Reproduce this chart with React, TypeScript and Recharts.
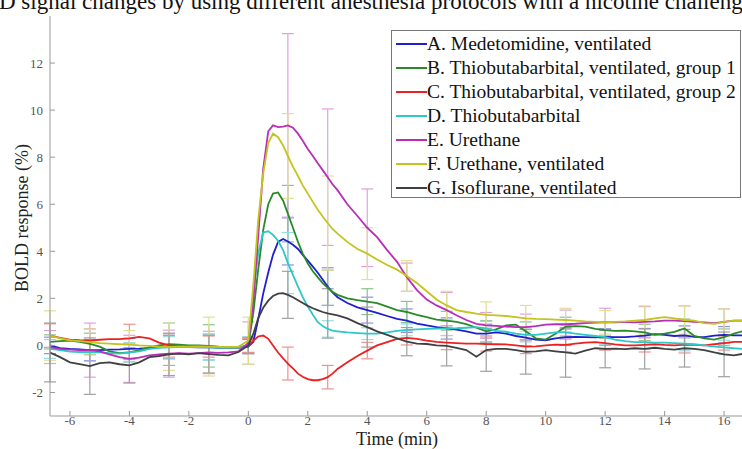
import React from 'react';
import { LineChart, Line, XAxis, YAxis, ErrorBar, Legend } from 'recharts';

const FONT = '"Liberation Serif", "Times New Roman", serif';
const CAPTION = 'BOLD signal changes by using different anesthesia protocols with a nicotine challenge';

const TIMES = [
  -6.67, -6.33, -6, -5.67, -5.33, -5, -4.67, -4.33, -4, -3.67, -3.33, -3, -2.67, -2.33, -2, -1.67, -1.33, -1, -0.67, -0.33,
  0, 0.17, 0.33, 0.5, 0.67, 0.83, 1, 1.17, 1.33, 1.5, 1.67, 1.83, 2, 2.17, 2.33, 2.5, 2.67, 2.83, 3,
  3.33, 3.67, 4, 4.33, 4.67, 5, 5.33, 5.67, 6, 6.33, 6.67, 7, 7.33, 7.67, 8,
  8.33, 8.67, 9, 9.33, 9.67, 10, 10.33, 10.67, 11, 11.33, 11.67, 12, 12.33, 12.67, 13, 13.33, 13.67, 14, 14.33, 14.67, 15, 15.33, 15.67, 16, 16.33, 16.67,
];

const BAR_TIMES = [-6.67, -5.33, -4, -2.67, -1.33, 0, 1.33, 2.67, 4, 5.33, 6.67, 8, 9.33, 10.67, 12, 13.33, 14.67, 16];

const A_MEDETOMIDINE = [
  0.0, -0.12, -0.15, -0.17, -0.2, -0.2, -0.18, -0.17, -0.15, -0.14, -0.12, -0.07, -0.07, -0.05, -0.07, -0.08, -0.07, -0.1, -0.1, -0.1,
  -0.05, 0.15, 1.1, 2.2, 3.1, 3.85, 4.4, 4.52, 4.42, 4.28, 4.1, 3.85, 3.6, 3.35, 3.1, 2.8, 2.5, 2.25, 2.05,
  1.8, 1.62, 1.5, 1.38, 1.25, 1.13, 1.05, 0.93, 0.85, 0.78, 0.72, 0.67, 0.6, 0.5, 0.5,
  0.55, 0.5, 0.4, 0.33, 0.25, 0.22, 0.3, 0.35, 0.36, 0.35, 0.34, 0.36, 0.35, 0.35, 0.38, 0.42, 0.48, 0.45, 0.4, 0.43, 0.36, 0.35, 0.42, 0.45, 0.43, 0.43,
];
const B_THIO_VENT_1 = [
  0.15, 0.18, 0.2, 0.15, 0.07, -0.05, -0.25, -0.33, -0.3, -0.2, -0.08, 0.0, 0.05, 0.03, 0.0, 0.0, -0.02, -0.05, -0.07, -0.08,
  0.0, 1.4, 3.2, 4.9, 6.0, 6.45, 6.5, 6.15, 5.6, 5.0, 4.4, 3.9, 3.48, 3.15, 2.9, 2.65, 2.45, 2.28, 2.15,
  2.0, 1.92, 1.86, 1.8, 1.65, 1.5, 1.42, 1.3, 1.2, 1.1, 1.05, 1.0, 0.9, 0.75, 0.6,
  0.68, 0.85, 0.88, 0.6, 0.3, 0.25, 0.5, 0.8, 0.82, 0.8, 0.7, 0.65, 0.62, 0.63, 0.6, 0.55, 0.45, 0.5, 0.58, 0.72, 0.4, 0.3, 0.25, 0.35, 0.5, 0.62,
];
const C_THIO_VENT_2 = [
  0.42, 0.32, 0.25, 0.22, 0.2, 0.24, 0.27, 0.27, 0.3, 0.36, 0.3, 0.12, 0.0, -0.03, -0.05, -0.06, -0.05, -0.08, -0.1, -0.1,
  0.0, 0.2, 0.38, 0.42, 0.28, 0.0, -0.3, -0.55, -0.77, -0.98, -1.2, -1.33, -1.43, -1.48, -1.48, -1.43, -1.35, -1.2, -1.0,
  -0.72, -0.45, -0.22, 0.0, 0.14, 0.28, 0.32, 0.28, 0.2, 0.15, 0.12, 0.1, 0.08, 0.08, 0.06,
  0.05, 0.04, 0.0, -0.05, -0.04, 0.0, 0.03, 0.02, 0.08, 0.12, 0.14, 0.1, 0.04, 0.0, 0.0, 0.02, 0.05, 0.02, 0.0, 0.03, 0.02, 0.0, 0.05, 0.1, 0.15, 0.15,
];
const D_THIO = [
  -0.15, -0.2, -0.26, -0.28, -0.28, -0.3, -0.33, -0.35, -0.3, -0.25, -0.15, -0.1, -0.08, -0.07, -0.06, -0.07, -0.08, -0.1, -0.1, -0.1,
  0.0, 2.2, 3.9, 4.8, 4.85, 4.7, 4.45, 4.05, 3.5, 3.0, 2.5, 2.05, 1.65, 1.3, 1.0, 0.82, 0.7, 0.63, 0.6,
  0.55, 0.52, 0.5, 0.5, 0.55, 0.62, 0.66, 0.68, 0.7, 0.71, 0.72, 0.73, 0.75, 0.78, 0.72,
  0.62, 0.58, 0.5, 0.45, 0.45, 0.5, 0.55, 0.55, 0.5, 0.45, 0.4, 0.35, 0.25, 0.18, 0.14, 0.14, 0.12, 0.12, 0.1, 0.07, 0.05, 0.0, -0.05, -0.08, -0.12, -0.15,
];
const E_URETHANE = [
  -0.07, -0.15, -0.18, -0.2, -0.2, -0.25, -0.38, -0.5, -0.57, -0.52, -0.42, -0.38, -0.35, -0.33, -0.35, -0.33, -0.3, -0.32, -0.3, -0.25,
  0.1, 1.9, 4.6, 7.5, 9.1, 9.35, 9.28, 9.3, 9.35, 9.25, 9.0, 8.7, 8.35, 8.05, 7.75, 7.45, 7.15, 6.85, 6.6,
  6.0, 5.5, 5.0, 4.6, 4.05, 3.55, 2.9, 2.35, 1.95, 1.7, 1.5, 1.28, 1.08, 0.92, 0.85,
  0.83, 0.8, 0.78, 0.78, 0.82, 0.88, 0.9, 0.9, 0.92, 0.95, 0.97, 0.98, 0.98, 1.0, 0.98, 1.0, 1.02, 1.05, 1.05, 1.03, 1.0, 0.98, 0.95, 1.0, 1.05, 1.05,
];
const F_URETHANE_VENT = [
  0.42, 0.3, 0.22, 0.18, 0.14, 0.1, 0.08, 0.05, 0.03, 0.0, -0.02, -0.05, -0.06, -0.05, -0.05, -0.04, -0.05, -0.06, -0.06, -0.05,
  0.2, 2.6, 5.3, 7.3, 8.6, 9.0, 8.85, 8.5, 8.05, 7.6, 7.2, 6.8, 6.45, 6.1, 5.78, 5.48, 5.2, 4.95, 4.75,
  4.4, 4.1, 3.9, 3.65, 3.42, 3.22, 2.95, 2.65, 2.3, 1.95, 1.7, 1.5, 1.42, 1.35, 1.3,
  1.28, 1.25, 1.2, 1.15, 1.13, 1.12, 1.1, 1.08, 1.05, 1.02, 1.0, 0.98, 1.0, 1.02, 1.05, 1.08, 1.15, 1.2, 1.15, 1.08, 1.05, 0.95, 0.92, 1.0, 1.05, 1.05,
];
const G_ISOFLURANE_VENT = [
  -0.3, -0.5, -0.72, -0.8, -0.88, -0.75, -0.72, -0.8, -0.85, -0.72, -0.5, -0.45, -0.38, -0.35, -0.38, -0.33, -0.37, -0.4, -0.42, -0.28,
  0.0, 0.5, 1.15, 1.6, 1.9, 2.1, 2.2, 2.22, 2.15, 2.05, 1.92, 1.8, 1.68, 1.58, 1.5, 1.42, 1.36, 1.32, 1.28,
  1.15, 0.95, 0.78, 0.6, 0.45, 0.3, 0.16, 0.08, 0.06, 0.0, -0.02, -0.1, -0.2, -0.48, -0.2,
  -0.15, -0.15, -0.2, -0.27, -0.25, -0.2, -0.25, -0.3, -0.35, -0.22, -0.12, -0.15, -0.14, -0.16, -0.12, -0.15, -0.1, -0.15, -0.18, -0.12, -0.15, -0.2, -0.3, -0.38, -0.42, -0.35,
];

const ERR_A = [0.35, 0.45, 0.45, 0.5, 0.55, 0.3, 1.0, 0.8, 0.55, 0.5, 0.45, 0.4, 0.35, 0.35, 0.35, 0.3, 0.4, 0.35];
const ERR_B = [0.3, 0.45, 0.4, 0.9, 0.9, 0.3, 1.2, 0.75, 0.55, 0.45, 0.4, 0.45, 0.4, 0.4, 0.35, 0.35, 0.4, 0.35];
const ERR_C = [0.5, 0.5, 0.6, 0.5, 0.45, 0.3, 0.7, 0.5, 0.35, 0.3, 0.3, 0.3, 0.3, 0.3, 0.3, 0.3, 0.35, 0.3];
const ERR_D = [0.4, 0.4, 0.4, 0.45, 0.55, 0.35, 1.3, 0.35, 0.25, 0.25, 0.3, 0.3, 0.3, 0.3, 0.3, 0.3, 0.3, 0.3];
const ERR_E = [0.7, 1.15, 1.0, 1.0, 0.9, 0.9, 3.9, 2.9, 1.65, 0.6, 0.75, 0.55, 0.55, 0.6, 0.6, 0.65, 0.65, 0.55];
const ERR_F = [1.05, 0.55, 0.6, 1.0, 1.25, 1.0, 1.8, 2.0, 1.1, 0.65, 0.6, 0.55, 0.55, 0.5, 0.5, 0.6, 0.6, 0.55];
const ERR_G = [1.25, 1.2, 0.75, 0.9, 0.8, 0.35, 1.0, 1.05, 0.85, 0.6, 0.85, 0.9, 0.95, 1.05, 0.8, 0.85, 0.8, 0.95];

const NAMES = [
  'A. Medetomidine, ventilated',
  'B. Thiobutabarbital, ventilated, group 1',
  'C. Thiobutabarbital, ventilated, group 2',
  'D. Thiobutabarbital',
  'E. Urethane',
  'F. Urethane, ventilated',
  'G. Isoflurane, ventilated',
];
const COLORS = ['#1f1fd0', '#2a8a2a', '#ee2020', '#2ec8c8', '#b92eb9', '#c4c41e', '#404040'];
const BAR_COLORS = ['#9090e2', '#90c290', '#f29090', '#90e0e0', '#e0a0e0', '#e0e090', '#a0a0a0'];

const X_TICKS = [-6, -4, -2, 0, 2, 4, 6, 8, 10, 12, 14, 16];
const Y_TICKS = [-2, 0, 2, 4, 6, 8, 10, 12];

const VALUES = [A_MEDETOMIDINE, B_THIO_VENT_1, C_THIO_VENT_2, D_THIO, E_URETHANE, F_URETHANE_VENT, G_ISOFLURANE_VENT];
const ERRORS = [ERR_A, ERR_B, ERR_C, ERR_D, ERR_E, ERR_F, ERR_G];

type Row = { t: number; v: number; e?: number };

function buildRows(values: number[], errs: number[]): Row[] {
  return TIMES.map((t, i) => {
    const k = BAR_TIMES.indexOf(t);
    return k >= 0 ? { t, v: values[i], e: errs[k] } : { t, v: values[i] };
  });
}

const ROWS = VALUES.map((v, i) => buildRows(v, ERRORS[i]));
const BAR_ROWS = ROWS.map((rows) => rows.filter((r) => r.e !== undefined));

const renderLegend = () => (
  <div
    style={{
      boxSizing: 'border-box',
      width: 350,
      height: 168,
      border: '1px solid #777',
      background: '#fff',
      padding: '1px 0 0 4px',
      fontFamily: FONT,
      fontSize: 19.5,
      color: '#111',
      textAlign: 'left',
    }}
  >
    {NAMES.map((n, i) => (
      <div key={n} style={{ display: 'flex', alignItems: 'center', height: 24, whiteSpace: 'nowrap', lineHeight: '24px' }}>
        <svg width={31} height={6} style={{ display: 'block', flex: 'none' }}>
          <line x1={0} y1={3} x2={31} y2={3} stroke={COLORS[i]} strokeWidth={2} />
        </svg>
        <span style={{ fontFamily: FONT }}>{n}</span>
      </div>
    ))}
  </div>
);

const XTick = (props: any) => (
  <text x={props.x} y={props.y} dy="0.71em" textAnchor="middle" fill="#555" style={{ fontFamily: FONT, fontSize: 13 }}>
    {props.payload.value}
  </text>
);

const YTick = (props: any) => (
  <text x={props.x} y={props.y} dy="0.355em" textAnchor="end" fill="#555" style={{ fontFamily: FONT, fontSize: 13 }}>
    {props.payload.value}
  </text>
);

export default function App() {
  return (
    <div style={{ position: 'absolute', left: 0, top: 0, width: 742, height: 449, overflow: 'hidden', background: '#fff' }}>
      <div
        style={{
          position: 'absolute',
          left: -47,
          top: -10,
          fontFamily: FONT,
          fontSize: 23,
          lineHeight: '23px',
          whiteSpace: 'nowrap',
          color: '#111',
        }}
      >
        {CAPTION}
      </div>
      <LineChart width={760} height={449} margin={{ top: 16, right: 16, bottom: 0, left: 0 }}>
        <XAxis
          type="number"
          dataKey="t"
          domain={[-6.67, 16.67]}
          allowDataOverflow
          ticks={X_TICKS}
          tickSize={-5}
          tickMargin={5}
          height={33}
          stroke="#999"
          tick={<XTick />}
          label={{ value: 'Time (min)', position: 'insideBottom', offset: 4, fill: '#222', fontSize: 18, fontFamily: FONT }}
        />
        <YAxis
          type="number"
          dataKey="v"
          domain={[-3, 14]}
          allowDataOverflow
          ticks={Y_TICKS}
          width={50}
          tickSize={-5}
          tickMargin={12}
          stroke="#999"
          tick={<YTick />}
          label={{
            content: () => (
              <text
                x={22}
                y={218}
                transform="rotate(-90 22 218)"
                textAnchor="middle"
                dominantBaseline="central"
                fontFamily={FONT}
                fontSize={18}
                fill="#222"
              >
                BOLD response (%)
              </text>
            ),
          }}
        />
        {BAR_ROWS.map((rows, i) => (
          <Line
            key={'bars' + i}
            data={rows}
            dataKey="v"
            stroke="none"
            dot={false}
            activeDot={false}
            legendType="none"
            isAnimationActive={false}
          >
            <ErrorBar dataKey="e" width={6} stroke={BAR_COLORS[i]} strokeWidth={1.2} direction="y" />
          </Line>
        ))}
        {ROWS.map((rows, i) => (
          <Line
            key={'line' + i}
            data={rows}
            dataKey="v"
            name={NAMES[i]}
            stroke={COLORS[i]}
            strokeWidth={1.8}
            dot={false}
            activeDot={false}
            type="linear"
            isAnimationActive={false}
          />
        ))}
        <Legend
          layout="horizontal"
          verticalAlign="middle"
          align="center"
          content={renderLegend}
          wrapperStyle={{ left: 391, top: 30, width: 350, height: 168, margin: 0 }}
        />
      </LineChart>
    </div>
  );
}
